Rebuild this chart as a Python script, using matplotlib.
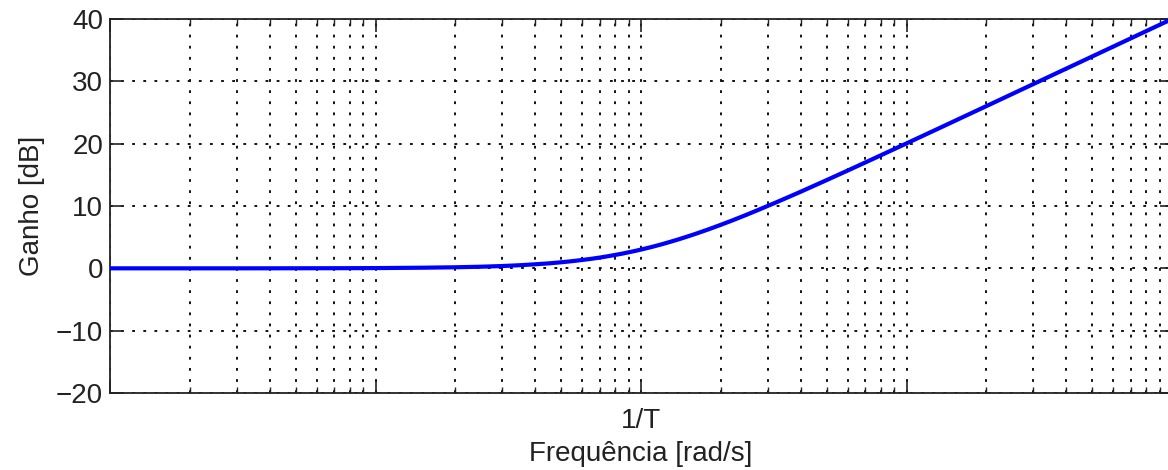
import matplotlib
matplotlib.use("Agg")
import matplotlib.pyplot as plt
from matplotlib.ticker import FixedLocator, NullFormatter, LogLocator

plt.rcParams['font.family'] = ['Liberation Sans', 'DejaVu Sans']
plt.rcParams['lines.scale_dashes'] = False

# Frequency in units of 1/T (rad/s) and gain in dB
freq = [0.01, 0.03, 0.05, 0.07, 0.1, 0.15, 0.2, 0.25, 0.3, 0.35, 0.4, 0.45,
        0.5, 0.55, 0.6, 0.65, 0.7, 0.75, 0.8, 0.85, 0.9, 0.95, 1.0, 1.1,
        1.2, 1.3, 1.4, 1.5, 1.6, 1.8, 2.0, 2.2, 2.5, 2.8, 3.2, 3.6, 4.0,
        5.0, 6.0, 7.0, 8.0, 10.0, 13.0, 16.0, 20.0, 30.0, 50.0, 70.0, 100.0]
gain_db = [0.00, 0.00, 0.01, 0.02, 0.04, 0.10, 0.17, 0.26, 0.37, 0.50, 0.65, 0.80,
           0.97, 1.15, 1.34, 1.53, 1.73, 1.94, 2.15, 2.36, 2.58, 2.79, 3.01, 3.44,
           3.87, 4.30, 4.71, 5.12, 5.51, 6.27, 6.99, 7.66, 8.60, 9.47, 10.51, 11.45, 12.30,
           14.15, 15.68, 16.99, 18.13, 20.04, 22.30, 24.10, 26.03, 29.55, 33.98, 36.90, 40.00]

xtick_pos = [0.01, 0.1, 1, 10, 100]
xtick_labels = ['', '', '1/T', '', '']
ytick_pos = [-20, -10, 0, 10, 20, 30, 40]

fig = plt.figure(figsize=(11.68, 4.70), dpi=100)
W, H = 1168, 470
left, right, top, bottom = 110, 1172, 19, 393
ax = fig.add_axes([left / W, 1 - bottom / H, (right - left) / W, (bottom - top) / H])

ax.semilogx(freq, gain_db, color='#0000ff', linewidth=3.0, zorder=3, solid_capstyle='butt')

ax.set_xlim(0.01, 100)
ax.set_ylim(-20, 40)
ax.xaxis.set_major_locator(FixedLocator(xtick_pos))
ax.set_xticklabels(xtick_labels)
ax.xaxis.set_minor_locator(LogLocator(base=10, subs=[2, 3, 4, 5, 6, 7, 8, 9], numticks=20))
ax.xaxis.set_minor_formatter(NullFormatter())
ax.set_yticks(ytick_pos)
ax.set_yticklabels(['\u221220', '\u221210', '0', '10', '20', '30', '40'])

grid_style = dict(color='#111111', linewidth=1.4, linestyle=(0, (2.0, 6.0)))
ax.grid(True, which='major', axis='both', **grid_style)
ax.grid(True, which='minor', axis='x', **grid_style)
ax.set_axisbelow(True)

for s in ['left', 'bottom', 'top', 'right']:
    ax.spines[s].set_linewidth(1.3)
    ax.spines[s].set_color('#222222')

ax.tick_params(axis='both', which='major', direction='in', length=9, width=1.2,
               labelsize=20, top=True, right=True, pad=5, colors='#222222')
ax.tick_params(axis='x', which='minor', direction='in', length=4.5, width=1.0,
               top=True, colors='#222222')
ax.tick_params(axis='x', which='major', pad=11)

ax.set_xlabel('Frequência [rad/s]', fontsize=20, labelpad=5, color='#222222')
ax.set_ylabel('Ganho [dB]', fontsize=20, labelpad=8, color='#222222')

fig.savefig('out.png', dpi=100)
